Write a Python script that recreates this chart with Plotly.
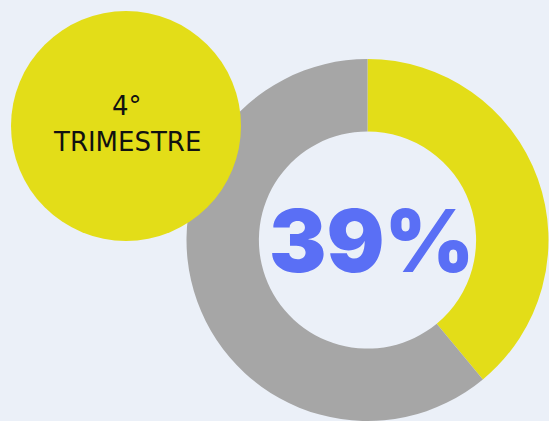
import plotly.graph_objects as go

# data
labels = ["4º trimestre", "Restante"]
values = [39, 61]
colors = ["#E3DD18", "#A6A6A6"]
badge_lines = ["4°", "TRIMESTRE"]

W, H = 549, 421
BG = "#EBF0F8"
YELLOW = "#E3DD18"
BLUE = "#5A6FF5"


def px(x):
    return x / W


def py(y):
    return 1 - y / H


# donut: centre ~ (367.5, 240), radius ~181 px
cx, cy, r = 367.5, 240, 181

fig = go.Figure()
fig.add_trace(
    go.Pie(
        labels=labels,
        values=values,
        hole=0.6,
        sort=False,
        direction="clockwise",
        rotation=0,
        marker=dict(colors=colors, line=dict(width=0)),
        textinfo="none",
        hoverinfo="skip",
        showlegend=False,
        domain=dict(x=[px(cx - r), px(cx + r)], y=[py(cy + r), py(cy - r)]),
    )
)

# yellow badge circle
fig.add_shape(
    type="circle",
    xref="paper", yref="paper",
    x0=px(11), x1=px(241), y0=py(241), y1=py(11),
    fillcolor=YELLOW, line=dict(width=0), layer="above",
)

badge_font = dict(family="DejaVu Sans", size=26, color="#111111")
for text, y in zip(badge_lines, [106, 142]):
    fig.add_annotation(
        x=px(127), y=py(y), xref="paper", yref="paper",
        xanchor="center", yanchor="middle",
        text=text, showarrow=False, font=badge_font,
    )

# centre value
fig.add_annotation(
    x=px(371), y=py(241), xref="paper", yref="paper",
    xanchor="center", yanchor="middle",
    text=f"{values[0]}%", showarrow=False,
    font=dict(family="Inter", size=86, color=BLUE, weight=900),
)

fig.update_layout(
    width=W, height=H,
    margin=dict(l=0, r=0, t=0, b=0),
    paper_bgcolor=BG, plot_bgcolor=BG,
)

fig.write_html(
    "out.html",
    config={"displayModeBar": False},
    post_script="document.body.style.margin='0';document.body.style.overflow='hidden';",
)
